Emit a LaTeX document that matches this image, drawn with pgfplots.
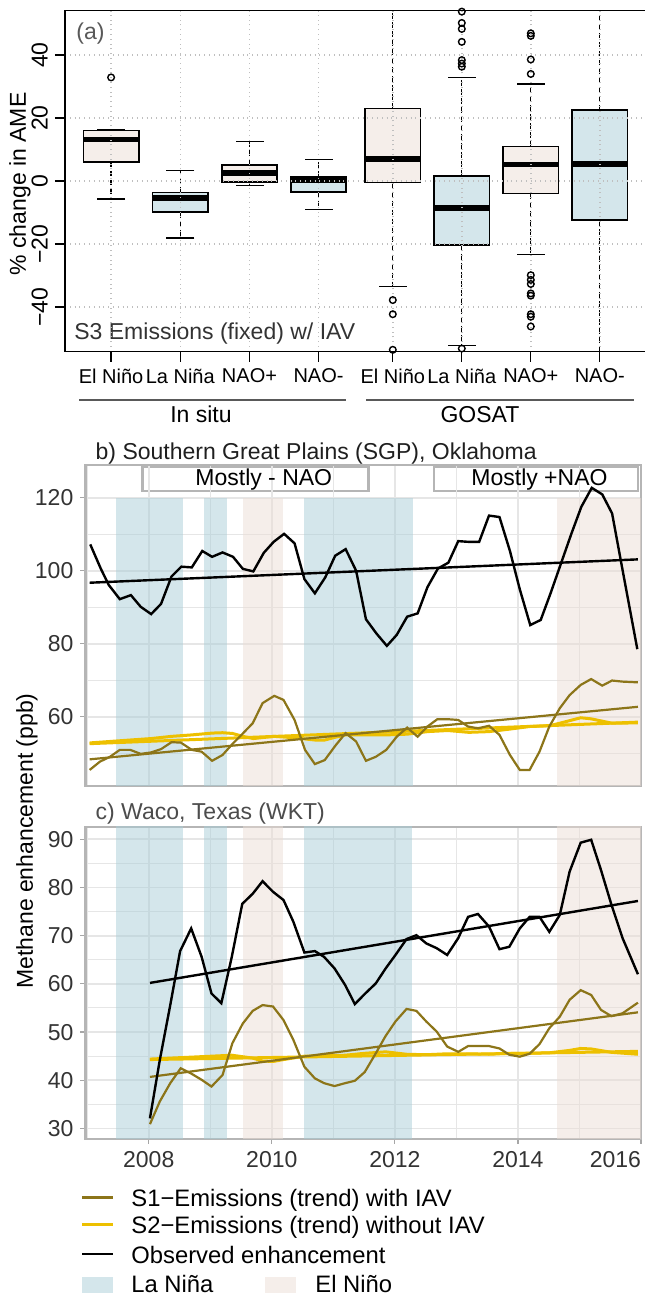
\documentclass[border=0pt]{standalone}
\usepackage{fontspec}
\setmainfont{Liberation Sans}
\usepackage{pgfplots}
\pgfplotsset{compat=1.18}
\usepgfplotslibrary{statistics}
\definecolor{lanina}{HTML}{D4E6EB}
\definecolor{elnino}{HTML}{F5EEEA}
\definecolor{laninaA}{HTML}{A9CDD7}
\definecolor{elninoA}{HTML}{EBDDD5}
\definecolor{sone}{HTML}{8C7519}
\definecolor{stwo}{HTML}{EDC000}
\definecolor{gridc}{HTML}{E6E6E6}
\definecolor{framec}{HTML}{B5B5B5}
\pgfplotsset{
  /pgf/number format/assume math mode=true,
  /pgf/number format/1000 sep={},
  tsaxis/.style={
    scale only axis, anchor=south west,
    width=277.8pt,
    xmin=2006.971, xmax=2016,
    xtick={2008,2010,2012,2014,2016},
    minor xtick={2007,2009,2011,2013,2015},
    grid=both,
    major grid style={gridc, line width=0.85pt},
    minor grid style={gridc, line width=0.5pt},
    axis line style={framec, line width=1.1pt},
    tick align=outside, major tick length=2.5pt, minor tick length=0pt,
    ytick style={gray!70, line width=0.6pt},
    xtick style={gray!70, line width=0.6pt},
    ticklabel style={text=black!80},
    xtick pos=bottom, ytick pos=left,
    clip=true,
  },
}
\begin{document}
\begin{tikzpicture}[font=\fontsize{11.5}{13.8}\selectfont]

% ---------------- Panel (a)
\begin{axis}[
  at={(32.5pt,472.15pt)}, anchor=south west, scale only axis,
  width=292.5pt, height=170.5pt,
  xmin=65, xmax=650, ymin=-54.2, ymax=54.1,
  axis on top,
  xtick={111.1,180.3,249.5,318.5,392.8,461.8,530.8,599.8},
  xticklabels={El Niño,La Niña,NAO+,NAO-,El Niño,La Niña,NAO+,NAO-},
  xticklabel style={font=\fontsize{10}{12}\selectfont},
  ytick={-40,-20,0,20,40}, yticklabels={−40,−20,0,20,40},
  yticklabel style={rotate=90, anchor=south},
  grid=major, grid style={lightgray, dotted, line width=0.7pt},
  tick align=outside, major tick length=5pt,
  tick style={black, line width=0.6pt},
  axis line style={black, line width=0.7pt},
  xtick pos=bottom, ytick pos=left,
  boxplot/draw direction=y,
  boxplot/box extend=55.4,
  boxplot/whisker extend=0,
  boxplot/every median/.style={line width=2.8pt},
  boxplot/every whisker/.style={dash pattern=on 2.8pt off 1.7pt, line width=0.6pt},
  outl/.style={draw=black, line width=0.8pt, mark=o, mark size=1.65pt,
    mark options={solid, draw=black, fill=none, line width=0.7pt}},
]
\addplot[outl, fill=elnino, boxplot prepared={draw position=111.1, lower whisker=-5.7, lower quartile=6.1, median=13.2, upper quartile=16.0, upper whisker=16.2}]
  table[row sep=\\, y index=0] {data\\ 32.9\\};
\addplot[outl, fill=lanina, boxplot prepared={draw position=180.3, lower whisker=-18.1, lower quartile=-9.9, median=-5.4, upper quartile=-3.6, upper whisker=3.4}]
  coordinates {};
\addplot[outl, fill=elnino, boxplot prepared={draw position=249.5, lower whisker=-1.5, lower quartile=-0.4, median=2.5, upper quartile=5.1, upper whisker=12.5}]
  coordinates {};
\addplot[outl, fill=lanina, boxplot prepared={draw position=318.5, lower whisker=-9.0, lower quartile=-3.4, median=0.3, upper quartile=1.3, upper whisker=6.8}]
  coordinates {};
\addplot[outl, fill=elnino, boxplot prepared={draw position=392.8, lower whisker=-33.5, lower quartile=-0.5, median=7.0, upper quartile=23.0, upper whisker=80}]
  table[row sep=\\, y index=0] {data\\ -37.8\\ -42.3\\ -53.6\\};
\addplot[outl, fill=lanina, boxplot prepared={draw position=461.8, lower whisker=-52.2, lower quartile=-20.3, median=-8.5, upper quartile=1.6, upper whisker=32.8}]
  table[row sep=\\, y index=0] {data\\ 53.8\\ 50.2\\ 48.3\\ 44.2\\ 38.4\\ 37.3\\ 36.3\\ -53.2\\};
\addplot[outl, fill=elnino, boxplot prepared={draw position=530.8, lower whisker=-23.3, lower quartile=-3.9, median=5.2, upper quartile=10.9, upper whisker=30.8}]
  table[row sep=\\, y index=0] {data\\ 46.9\\ 46.1\\ 38.6\\ 34.0\\ -29.9\\ -31.4\\ -32.7\\ -35.7\\ -36.4\\ -42.3\\ -43.1\\ -46.2\\};
\addplot[outl, fill=lanina, boxplot prepared={draw position=599.8, lower whisker=-80, lower quartile=-12.4, median=5.4, upper quartile=22.5, upper whisker=80}]
  coordinates {};
% whisker caps
\addplot[only marks, mark=-, mark size=7pt, mark options={solid, black, line width=0.7pt}]
  coordinates {(111.1,-5.7) (111.1,16.2) (180.3,-18.1) (180.3,3.4) (249.5,-1.5) (249.5,12.5)
  (318.5,-9.0) (318.5,6.8) (392.8,-33.5) (461.8,-52.2) (461.8,32.8) (530.8,-23.3) (530.8,30.8)};
\node[anchor=west, inner sep=0pt, text=black!65] at (axis cs:76,46.7) {(a)};
\node[anchor=west, inner sep=0pt, text=black!80] at (axis cs:74,-48.3) {S3 Emissions (fixed) w/ IAV};
\end{axis}

% ---------------- decorations (pixel units, y up)
\begin{scope}[x=0.5pt,y=0.5pt]
\node[rotate=90] at (20,{1296-184}) {\% change in AME};
\draw[black!65, line width=0.6pt] (79,{1296-400}) -- (346,{1296-400});
\draw[black!65, line width=0.6pt] (366,{1296-400}) -- (634,{1296-400});
\node[anchor=base] at (201,{1296-422.7}) {In situ};
\node[anchor=base] at (480,{1296-422.7}) {GOSAT};
\node[anchor=base west, inner sep=0pt, text=black!88] at (95.3,{1296-460}) {b) Southern Great Plains (SGP), Oklahoma};
\node[anchor=base west, inner sep=0pt, text=black!70] at (95.3,{1296-819.3}) {c) Waco, Texas (WKT)};
\node[rotate=90] at (27,{1296-841}) {Methane enhancement (ppb)};
% label boxes of panel b
\draw[framec, line width=1.1pt, fill=white] (142.5,{1296-490.7}) rectangle (368.4,{1296-466.7});
\draw[framec, line width=1.1pt, fill=white] (434,{1296-490.7}) rectangle (638,{1296-466.7});
% legend
\begin{scope}[font=\fontsize{11.9}{14}\selectfont]
\draw[sone, line width=1.3pt] (82,{1296-1197.3}) -- (113,{1296-1197.3});
\draw[stwo, line width=1.3pt] (82,{1296-1224.3}) -- (113,{1296-1224.3});
\draw[black, line width=1.3pt] (82,{1296-1254}) -- (113,{1296-1254});
\fill[lanina] (82,{1296-1293.3}) rectangle (113,{1296-1277.3});
\fill[elnino] (265,{1296-1293.3}) rectangle (296,{1296-1277.3});
\node[anchor=base west, inner sep=0pt] at (131,{1296-1206.7}) {S1−Emissions (trend) with IAV};
\node[anchor=base west, inner sep=0pt] at (131,{1296-1233.3}) {S2−Emissions (trend) without IAV};
\node[anchor=base west, inner sep=0pt] at (131,{1296-1263.3}) {Observed enhancement};
\node[anchor=base west, inner sep=0pt] at (131,{1296-1292.7}) {La Niña};
\node[anchor=base west, inner sep=0pt] at (315,{1296-1292.7}) {El Niño};
\end{scope}
\end{scope}

% ---------------- Panel (b)
\begin{axis}[tsaxis,
  at={(42.7pt,255pt)}, height=160.5pt,
  ymin=41, ymax=128.96,
  ytick={60,80,100,120}, minor ytick={50,70,90,110},
  xticklabels={}, xtick style={draw=none},
]
\addplot[draw=none, fill=laninaA, fill opacity=0.5] coordinates {(2007.47,0) (2008.55,0) (2008.55,120) (2007.47,120)};
\addplot[draw=none, fill=laninaA, fill opacity=0.5] coordinates {(2008.90,0) (2009.27,0) (2009.27,120) (2008.90,120)};
\addplot[draw=none, fill=laninaA, fill opacity=0.5] coordinates {(2010.52,0) (2012.29,0) (2012.29,120) (2010.52,120)};
\addplot[draw=none, fill=elninoA, fill opacity=0.5] coordinates {(2009.53,0) (2010.19,0) (2010.19,120) (2009.53,120)};
\addplot[draw=none, fill=elninoA, fill opacity=0.5] coordinates {(2014.63,0) (2017,0) (2017,120) (2014.63,120)};
% S2
\addplot[stwo, line width=1.5pt] coordinates {(2007.04,52.6) (2015.95,58.5)};
\addplot[stwo, line width=1.5pt] coordinates {
(2007.04,52.8) (2007.37,53.2) (2007.70,53.6) (2008.04,54.0) (2008.37,54.6) (2008.70,55.0)
(2009.03,55.5) (2009.20,55.6) (2009.36,55.4) (2009.53,54.6) (2009.70,54.0) (2009.87,54.3)
(2010.04,54.6) (2010.37,54.2) (2010.70,53.6) (2010.86,53.6) (2011.04,54.4) (2011.20,55.0)
(2011.53,55.0) (2011.86,55.0) (2012.20,55.2) (2012.53,55.9) (2012.86,56.2) (2013.20,55.7)
(2013.53,55.9) (2013.87,56.6) (2014.19,57.3) (2014.51,57.5) (2014.68,58.2) (2015.02,59.7)
(2015.19,59.4) (2015.53,58.2) (2015.95,58.3)};
% S1
\addplot[sone, line width=1.1pt] coordinates {(2007.04,48.3) (2015.95,62.7)};
\addplot[sone, line width=1.1pt] coordinates {
(2007.04,45.4) (2007.21,47.7) (2007.37,49.0) (2007.53,50.9) (2007.70,50.9) (2007.87,49.8)
(2008.04,50.2) (2008.20,51.1) (2008.37,53.0) (2008.52,52.9) (2008.70,50.9) (2008.86,50.4)
(2009.03,47.9) (2009.20,49.5) (2009.36,52.5) (2009.53,55.4) (2009.69,58.2) (2009.85,63.7)
(2010.04,65.7) (2010.19,64.6) (2010.37,59.1) (2010.54,50.9) (2010.70,47.0) (2010.86,48.1)
(2011.04,52.2) (2011.20,55.5) (2011.37,53.2) (2011.53,47.9) (2011.69,49.0) (2011.86,50.9)
(2012.03,54.5) (2012.20,57.0) (2012.37,54.5) (2012.53,57.3) (2012.69,59.3) (2012.86,59.3)
(2013.03,59.1) (2013.19,57.3) (2013.35,56.8) (2013.53,57.5) (2013.70,55.0) (2013.87,49.5)
(2014.03,45.4) (2014.19,45.4) (2014.35,50.4) (2014.51,57.3) (2014.68,62.3) (2014.84,65.9)
(2015.02,68.7) (2015.19,70.3) (2015.37,68.5) (2015.53,69.9) (2015.70,69.6) (2015.95,69.4)};
% Observed
\addplot[black, line width=1.2pt] coordinates {(2007.04,96.7) (2015.95,103.1)};
\addplot[black, line width=1.2pt] coordinates {
(2007.05,107.2) (2007.22,100.6) (2007.35,96.1) (2007.53,92.2) (2007.71,93.3) (2007.87,90.1)
(2008.04,88.1) (2008.20,90.9) (2008.37,98.4) (2008.53,101.1) (2008.70,100.9) (2008.87,105.4)
(2009.03,103.8) (2009.20,105.0) (2009.37,103.8) (2009.53,100.5) (2009.70,99.8) (2009.87,104.9)
(2010.03,107.9) (2010.20,110.1) (2010.37,107.5) (2010.53,97.7) (2010.70,93.8) (2010.87,98.2)
(2011.03,104.1) (2011.20,105.9) (2011.37,100.0) (2011.53,86.7) (2011.70,82.8) (2011.87,79.4)
(2012.03,82.4) (2012.20,87.4) (2012.37,88.3) (2012.53,95.5) (2012.70,100.6) (2012.87,102.2)
(2013.03,108.1) (2013.20,107.9) (2013.37,107.9) (2013.53,115.1) (2013.70,114.7) (2013.87,105.4)
(2014.03,94.9) (2014.20,85.1) (2014.37,86.5) (2014.53,93.8) (2014.70,102.0) (2014.87,110.2)
(2015.03,117.5) (2015.20,122.7) (2015.37,120.9) (2015.53,115.7) (2015.70,100.2) (2015.94,78.5)};
\node[inner sep=0pt] at (axis cs:2009.87,124.9) {Mostly - NAO};
\node[inner sep=0pt] at (axis cs:2014.35,124.9) {Mostly +NAO};
\end{axis}

% ---------------- Panel (c)
\begin{axis}[tsaxis,
  at={(42.7pt,78.5pt)}, height=156.15pt,
  ymin=27.82, ymax=92.61,
  ytick={30,40,...,90}, minor ytick={35,45,...,85},
  xticklabels={2008,2010,2012,2014,\makebox[0pt][r]{2016}},
]
\addplot[draw=none, fill=laninaA, fill opacity=0.5] coordinates {(2007.47,0) (2008.55,0) (2008.55,200) (2007.47,200)};
\addplot[draw=none, fill=laninaA, fill opacity=0.5] coordinates {(2008.90,0) (2009.27,0) (2009.27,200) (2008.90,200)};
\addplot[draw=none, fill=laninaA, fill opacity=0.5] coordinates {(2010.52,0) (2012.28,0) (2012.28,200) (2010.52,200)};
\addplot[draw=none, fill=elninoA, fill opacity=0.5] coordinates {(2009.53,0) (2010.19,0) (2010.19,200) (2009.53,200)};
\addplot[draw=none, fill=elninoA, fill opacity=0.5] coordinates {(2014.63,0) (2017,0) (2017,200) (2014.63,200)};
% S2
\addplot[stwo, line width=1.5pt] coordinates {(2008.02,44.3) (2015.95,46.0)};
\addplot[stwo, line width=1.5pt] coordinates {
(2008.02,44.4) (2008.35,44.6) (2008.69,44.8) (2009.02,45.0) (2009.35,45.2) (2009.69,44.6)
(2009.85,44.0) (2010.02,43.9) (2010.19,44.3) (2010.53,45.0) (2010.85,45.1) (2011.19,45.2)
(2011.51,45.6) (2011.85,45.9) (2012.19,45.4) (2012.51,45.3) (2012.85,45.5) (2013.19,45.5)
(2013.53,45.4) (2013.86,45.6) (2014.19,45.6) (2014.51,45.7) (2014.84,46.2) (2015.02,46.6)
(2015.19,46.5) (2015.52,45.8) (2015.95,45.4)};
% S1
\addplot[sone, line width=1.1pt] coordinates {(2008.02,40.7) (2015.95,54.1)};
\addplot[sone, line width=1.1pt] coordinates {
(2008.02,30.9) (2008.18,35.6) (2008.35,39.4) (2008.52,42.5) (2008.69,41.4) (2008.86,40.1)
(2009.02,38.7) (2009.20,41.1) (2009.36,47.7) (2009.53,51.8) (2009.69,54.4) (2009.85,55.6)
(2010.02,55.3) (2010.19,52.5) (2010.35,48.4) (2010.53,42.8) (2010.70,40.4) (2010.85,39.4)
(2011.02,38.8) (2011.19,39.4) (2011.35,39.9) (2011.51,41.7) (2011.69,45.6) (2011.85,49.2)
(2012.01,52.2) (2012.19,54.8) (2012.35,54.4) (2012.51,52.2) (2012.68,50.1) (2012.85,47.0)
(2013.03,45.9) (2013.19,47.1) (2013.35,47.1) (2013.53,47.1) (2013.70,46.6) (2013.86,45.3)
(2014.03,44.9) (2014.19,45.5) (2014.35,47.5) (2014.51,50.8) (2014.68,53.2) (2014.84,56.7)
(2015.02,58.7) (2015.19,57.7) (2015.35,54.6) (2015.52,53.3) (2015.70,53.9) (2015.95,56.1)};
% Observed
\addplot[black, line width=1.2pt] coordinates {(2008.02,60.2) (2015.95,77.2)};
\addplot[black, line width=1.2pt] coordinates {
(2008.02,32.1) (2008.18,44.2) (2008.35,55.6) (2008.51,66.8) (2008.69,71.5) (2008.86,65.6)
(2009.02,58.0) (2009.18,56.0) (2009.35,65.6) (2009.52,76.6) (2009.69,78.7) (2009.85,81.3)
(2010.02,79.1) (2010.19,77.4) (2010.35,72.9) (2010.53,66.5) (2010.70,66.8) (2010.85,65.6)
(2011.02,63.2) (2011.19,59.8) (2011.35,55.8) (2011.51,57.9) (2011.69,60.1) (2011.85,63.2)
(2012.01,66.0) (2012.19,69.3) (2012.35,70.1) (2012.51,68.4) (2012.68,67.4) (2012.85,66.0)
(2013.03,69.5) (2013.19,73.9) (2013.35,74.5) (2013.53,71.9) (2013.70,67.2) (2013.86,67.7)
(2014.03,71.5) (2014.19,73.9) (2014.35,73.9) (2014.51,70.8) (2014.68,74.3) (2014.84,83.3)
(2015.02,89.3) (2015.19,89.9) (2015.35,83.6) (2015.52,76.4) (2015.70,69.5) (2015.95,62.0)};
\end{axis}

\pgfresetboundingbox
\path[use as bounding box] (0pt,0pt) rectangle (322pt,648pt);
\end{tikzpicture}
\end{document}
